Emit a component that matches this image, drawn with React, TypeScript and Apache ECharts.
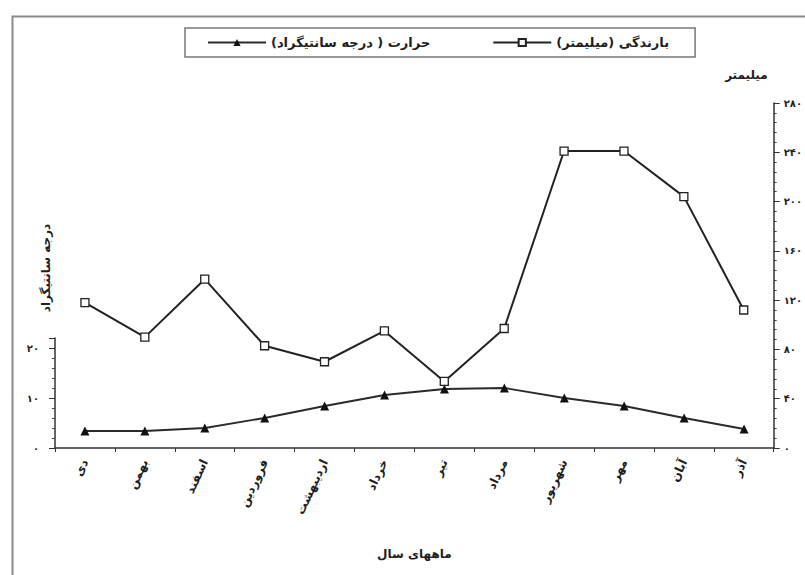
import React, { useEffect, useRef } from 'react';
import * as echarts from 'echarts';

const months = ['دی', 'بهمن', 'اسفند', 'فروردین', 'اردیبهشت', 'خرداد', 'تیر', 'مرداد', 'شهریور', 'مهر', 'آبان', 'آذر'];
const rainfall = [118, 90, 137, 83, 70, 95, 54, 97, 241, 241, 204, 112];
const temperature = [3.4, 3.4, 4, 6, 8.4, 10.6, 11.8, 12, 10, 8.4, 6, 3.8];
const rainTickLabels = ['۰', '۴۰', '۸۰', '۱۲۰', '۱۶۰', '۲۰۰', '۲۴۰', '۲۸۰'];
const tempTickLabels = ['۰', '۱۰', '۲۰'];
const rainName = 'بارندگی (میلیمتر)';
const tempName = 'حرارت ( درجه سانتیگراد)';
const xAxisTitle = 'ماههای سال';
const rainAxisTitle = 'میلیمتر';
const tempAxisTitle = 'درجه سانتیگراد';

const FONT = 'DejaVu Sans';
const INK = '#1e1e1e';

export default function App() {
  const ref = useRef<HTMLDivElement>(null);
  useEffect(() => {
    if (!ref.current) return;
    const chart = echarts.init(ref.current, undefined, { renderer: 'svg' });
    const axisLine = { show: true, lineStyle: { color: '#333', width: 1.5 } };
    chart.setOption({
      animation: false,
      backgroundColor: '#fff',
      textStyle: { fontFamily: FONT, color: INK },
      legend: {
        data: [tempName, rainName],
        left: 185,
        top: 28,
        padding: [8, 26, 8, 22],
        itemGap: 62,
        itemWidth: 58,
        itemHeight: 9,
        borderColor: '#777',
        borderWidth: 1.5,
        textStyle: { fontFamily: FONT, fontSize: 13, color: INK, fontWeight: 'bold' },
      },
      grid: [
        { left: 55, right: 31, top: 103, bottom: 127 },
        { left: 55, right: 31, top: 338, bottom: 127 },
      ],
      xAxis: [
        {
          gridIndex: 0,
          type: 'category',
          data: months,
          boundaryGap: true,
          axisLine,
          axisTick: { show: true, length: 4, lineStyle: { color: '#333' } },
          axisLabel: { rotate: 65, margin: 12, fontSize: 12, fontWeight: 'bold', color: INK, fontFamily: FONT },
          name: xAxisTitle,
          nameLocation: 'middle',
          nameGap: 100,
          nameTextStyle: { fontSize: 12, fontWeight: 'bold', color: INK, fontFamily: FONT },
        },
        { gridIndex: 1, type: 'category', data: months, boundaryGap: true, show: false },
      ],
      yAxis: [
        {
          gridIndex: 0,
          type: 'value',
          position: 'right',
          min: 0,
          max: 280,
          interval: 40,
          axisLine,
          axisTick: { show: true, length: 6, lineStyle: { color: '#333' } },
          minorTick: { show: true, splitNumber: 5, length: 3, lineStyle: { color: '#444' } },
          splitLine: { show: false },
          axisLabel: {
            margin: 10,
            fontSize: 10,
            fontWeight: 'bold',
            color: INK,
            fontFamily: FONT,
            formatter: (v: number) => (v % 40 === 0 ? rainTickLabels[v / 40] ?? '' : ''),
          },
          name: rainAxisTitle,
          nameLocation: 'end',
          nameGap: 22,
          nameTextStyle: { align: 'right', padding: [0, 6, 0, 0], fontSize: 12, fontWeight: 'bold', color: INK, fontFamily: FONT },
        },
        {
          gridIndex: 1,
          type: 'value',
          position: 'left',
          min: 0,
          max: 22,
          interval: 10,
          axisLine,
          axisTick: { show: true, length: 6, lineStyle: { color: '#333' } },
          minorTick: { show: true, splitNumber: 5, length: 3, lineStyle: { color: '#444' } },
          splitLine: { show: false },
          axisLabel: {
            margin: 16,
            fontSize: 10,
            fontWeight: 'bold',
            color: INK,
            fontFamily: FONT,
            showMaxLabel: false,
            formatter: (v: number) => (v % 10 === 0 ? tempTickLabels[v / 10] ?? '' : ''),
          },
        },
      ],
      series: [
        {
          name: tempName,
          type: 'line',
          xAxisIndex: 1,
          yAxisIndex: 1,
          data: temperature,
          symbol: 'triangle',
          symbolSize: 9,
          itemStyle: { color: '#111' },
          lineStyle: { color: '#2a2a2a', width: 1.8 },
          z: 2,
        },
        {
          name: rainName,
          type: 'line',
          xAxisIndex: 0,
          yAxisIndex: 0,
          data: rainfall,
          symbol: 'rect',
          symbolSize: 8,
          itemStyle: { color: '#fff', borderColor: '#222', borderWidth: 1.3 },
          lineStyle: { color: '#222', width: 2 },
          z: 3,
        },
      ],
      graphic: [
        {
          type: 'rect',
          left: 10,
          top: 14,
          shape: { width: 800, height: 570 },
          style: { fill: 'none', stroke: '#8a8a8a', lineWidth: 2 },
          silent: true,
        },
        {
          type: 'text',
          x: 46,
          y: 268,
          rotation: Math.PI / 2,
          style: {
            text: tempAxisTitle,
            fontFamily: FONT,
            fontSize: 12,
            fontWeight: 'bold',
            fill: INK,
            align: 'center',
            verticalAlign: 'middle',
          },
        },
      ],
    });
    return () => chart.dispose();
  }, []);
  return <div ref={ref} style={{ position: 'fixed', left: 0, top: 0, width: 805, height: 575 }} />;
}
